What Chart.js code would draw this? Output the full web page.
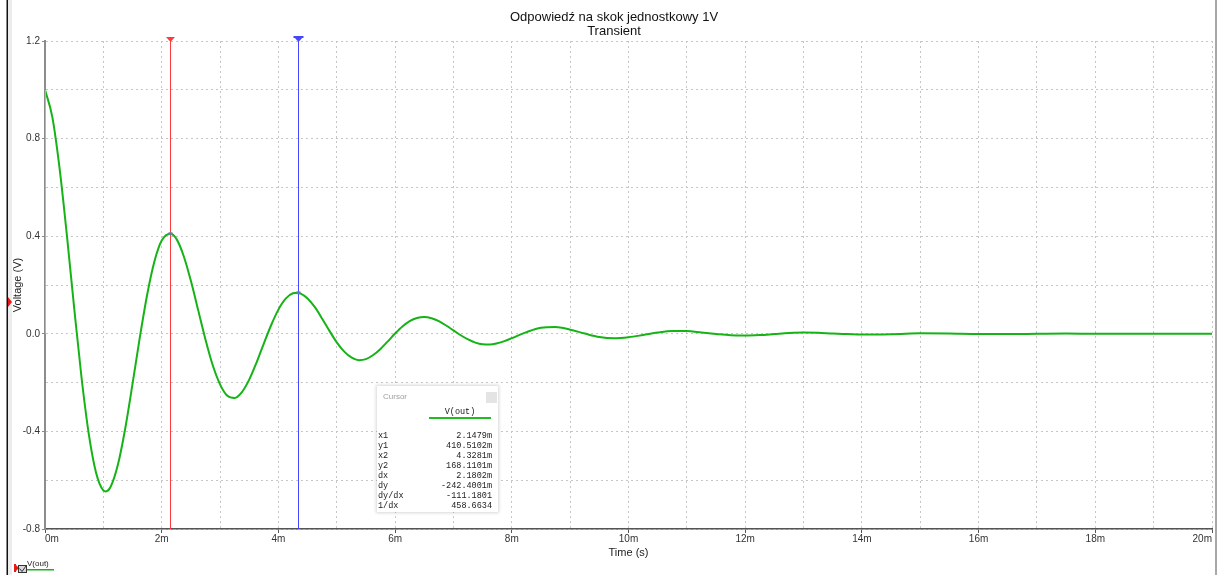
<!DOCTYPE html>
<html>
<head>
<meta charset="utf-8">
<script src="https://cdn.jsdelivr.net/npm/chart.js@4.4.0/dist/chart.umd.min.js"></script>
<style>
  html, body { margin: 0; padding: 0; background: #fff; }
  #wrap { position: relative; width: 1218px; height: 575px; overflow: hidden; }
  #plot { position: absolute; left: 0; top: 0; }
  #cursorBox {
    position: absolute; left: 377px; top: 386px; width: 121px; height: 126px;
    background: #fff; box-shadow: 0 0 3px 1px rgba(0,0,0,0.16);
    font-family: "Liberation Mono", "DejaVu Sans Mono", monospace; font-size: 8.5px; color: #222;
  }
  #cursorBox .cb-title { position: absolute; left: 6px; top: 6px; font: 8px "Liberation Sans", Arial, sans-serif; color: #a0a0a0; line-height: 10px; }
  #cursorBox .cb-close { position: absolute; left: 109px; top: 6px; width: 11px; height: 11px; background: #e4e4e4; }
  #cursorBox .cb-head { position: absolute; left: 52px; width: 62px; top: 21px; text-align: center; line-height: 10px; }
  #cursorBox .cb-rule { position: absolute; left: 52px; width: 62px; top: 31px; height: 2px; background: #22bb22; }
  #cursorBox .cb-row { position: absolute; left: 1px; right: 6px; height: 10px; line-height: 10px; white-space: pre; }
  #cursorBox .cb-row span.v { position: absolute; right: 0; }
</style>
</head>
<body>
<div id="wrap">
  <canvas id="plot" width="1218" height="575"></canvas>
  <div id="cursorBox">
    <div class="cb-title">Cursor</div>
    <div class="cb-close"></div>
    <div class="cb-head">V(out)</div>
    <div class="cb-rule"></div>
  </div>
</div>
<script>
// Transient response V(out): time in ms, voltage in V
const timeMs = [
  0, 0.125, 0.25, 0.375, 0.5, 0.625, 0.75, 0.875, 1.0, 1.041, 1.125, 1.25, 1.375, 1.5, 1.625, 1.75, 1.875,
  2.0, 2.1479, 2.25, 2.375, 2.5, 2.625, 2.75, 2.875, 3.0, 3.125, 3.25, 3.375, 3.5, 3.625, 3.75, 3.875,
  4.0, 4.125, 4.25, 4.3281, 4.375, 4.5, 4.625, 4.75, 4.875, 5.0, 5.125, 5.25, 5.375, 5.5, 5.625, 5.75, 5.875,
  6.0, 6.125, 6.25, 6.375, 6.5, 6.625, 6.75, 6.875, 7.0, 7.125, 7.25, 7.375, 7.5, 7.625, 7.75, 7.875,
  8.0, 8.25, 8.5, 8.75, 9.0, 9.25, 9.5, 9.75, 10.0, 10.25, 10.5, 10.75, 11.0, 11.25, 11.5, 11.75,
  12.0, 12.25, 12.5, 12.75, 13.0, 13.25, 13.5, 13.75, 14.0, 14.25, 14.5, 14.75, 15.0, 15.5, 16.0, 16.5,
  17.0, 17.5, 18.0, 19.0, 20.0];
const vOut = [
  1.000, 0.889, 0.678, 0.404, 0.106, -0.177, -0.410, -0.569, -0.642, -0.646, -0.627, -0.536, -0.388, -0.205, -0.015, 0.159, 0.296,
  0.382, 0.4105102, 0.390, 0.320, 0.217, 0.097, -0.023, -0.129, -0.207, -0.254, -0.263, -0.239, -0.188, -0.118, -0.040, 0.035,
  0.099, 0.144, 0.166, 0.1681101, 0.166, 0.145, 0.109, 0.062, 0.012, -0.035, -0.072, -0.097, -0.108, -0.104, -0.087, -0.062, -0.031,
  0.001, 0.030, 0.052, 0.065, 0.069, 0.064, 0.052, 0.034, 0.014, -0.006, -0.023, -0.036, -0.043, -0.044, -0.039, -0.030,
  -0.018, 0.007, 0.025, 0.028, 0.017, 0.001, -0.013, -0.018, -0.014, -0.005, 0.005, 0.011, 0.011, 0.005, -0.001, -0.006,
  -0.007, -0.005, -0.001, 0.003, 0.005, 0.004, 0.001, -0.001, -0.003, -0.003, -0.002, 0.000, 0.002, 0.001, -0.001, -0.001,
  0.000, 0.001, 0.000, 0.000, 0.000];

// input step edge at t = 0
const stepTimeMs = [0, 0];
const stepV = [0, 1];

// cursor positions (ms) and the values they read
const cursorTimesMs = [2.1479, 4.3281];
const cursorValues = [0.4105102, 0.1681101];
const cursorColors = ['#ff3b3b', '#4646ff'];

// readout panel rows
const readoutNames = ['x1', 'y1', 'x2', 'y2', 'dx', 'dy', 'dy/dx', '1/dx'];
const readoutValues = ['2.1479m', '410.5102m', '4.3281m', '168.1101m', '2.1802m', '-242.4001m', '-111.1801', '458.6634'];

// axis ranges
const xRange = [0, 20];
const yRange = [-0.8, 1.2];

const titleLines = ['Odpowiedź na skok jednostkowy 1V', 'Transient'];
const xTitle = 'Time (s)';
const yTitle = 'Voltage (V)';
const legendLabel = 'V(out)';

// fill the readout rows
const box = document.getElementById('cursorBox');
readoutNames.forEach((name, i) => {
  const row = document.createElement('div');
  row.className = 'cb-row';
  row.style.top = (45 + i * 10) + 'px';
  row.textContent = name;
  const v = document.createElement('span');
  v.className = 'v';
  v.textContent = readoutValues[i];
  row.appendChild(v);
  box.appendChild(row);
});

const SANS = '"Liberation Sans", Arial, sans-serif';

const decorations = {
  id: 'decorations',
  afterDatasetsDraw(chart) {
    const { ctx, chartArea: a, scales: { x, y } } = chart;
    ctx.save();

    // cursors with their top markers and curve hit points
    cursorTimesMs.forEach((t, i) => {
      const px = Math.round(x.getPixelForValue(t)) + 0.5;
      ctx.strokeStyle = cursorColors[i];
      ctx.lineWidth = 1;
      ctx.beginPath();
      ctx.moveTo(px, a.top - 3);
      ctx.lineTo(px, a.bottom);
      ctx.stroke();
      ctx.fillStyle = cursorColors[i];
      ctx.beginPath();
      ctx.moveTo(px - 4.5, a.top - 4);
      ctx.lineTo(px + 4.5, a.top - 4);
      ctx.lineTo(px, a.top + 1);
      ctx.closePath();
      ctx.fill();
      if (i === 1) ctx.fillRect(px - 5, a.top - 5, 10, 2);
      const py = y.getPixelForValue(cursorValues[i]);
      ctx.fillStyle = 'rgba(90,130,170,0.85)';
      ctx.fillRect(px - 2, py - 1.5, 4, 3);
    });

    // titles
    ctx.fillStyle = '#111';
    ctx.textAlign = 'center';
    ctx.textBaseline = 'middle';
    ctx.font = '13px ' + SANS;
    ctx.fillText(titleLines[0], 614, 17);
    ctx.fillText(titleLines[1], 614, 31);

    ctx.font = '11px ' + SANS;
    ctx.fillStyle = '#222';
    ctx.fillText(xTitle, (a.left + a.right) / 2, 553);
    ctx.save();
    ctx.translate(18, (a.top + a.bottom) / 2);
    ctx.rotate(-Math.PI / 2);
    ctx.fillText(yTitle, 0, 0);
    ctx.restore();

    // frame lines at the window edges
    ctx.fillStyle = '#ececec';
    ctx.fillRect(8, 0, 4, 575);
    ctx.fillStyle = '#111';
    ctx.fillRect(6.5, 0, 1.5, 575);
    ctx.fillStyle = '#a8a8a8';
    ctx.fillRect(1215, 0, 2, 575);

    // trigger marker on the left edge
    ctx.fillStyle = '#e81818';
    ctx.beginPath();
    ctx.moveTo(8, 297);
    ctx.lineTo(12, 302);
    ctx.lineTo(8, 307);
    ctx.closePath();
    ctx.fill();

    // trace legend at bottom-left
    ctx.fillStyle = '#e81818';
    ctx.fillRect(14, 564, 2, 8);
    ctx.beginPath();
    ctx.moveTo(15, 564); ctx.lineTo(19, 568); ctx.lineTo(15, 572); ctx.closePath();
    ctx.fill();
    ctx.fillStyle = '#d8d8d8';
    ctx.fillRect(18, 565, 9, 8);
    ctx.strokeStyle = '#333';
    ctx.lineWidth = 1;
    ctx.strokeRect(18.5, 565.5, 8, 7);
    ctx.beginPath();
    ctx.moveTo(19.5, 568.5); ctx.lineTo(22, 571.5); ctx.lineTo(26, 566);
    ctx.stroke();
    ctx.fillStyle = '#222';
    ctx.textAlign = 'left';
    ctx.font = '8px ' + SANS;
    ctx.fillText(legendLabel, 27, 564);
    ctx.fillStyle = '#16b316';
    ctx.fillRect(27, 569, 27, 1.5);

    ctx.restore();
  }
};

new Chart(document.getElementById('plot'), {
  type: 'line',
  data: {
    datasets: [
      {
        label: 'step',
        data: stepTimeMs.map((t, i) => ({ x: t, y: stepV[i] })),
        borderColor: '#97de97',
        borderWidth: 1.5,
        pointRadius: 0
      },
      {
        label: legendLabel,
        data: timeMs.map((t, i) => ({ x: t, y: vOut[i] })),
        borderColor: '#16b316',
        borderWidth: 2,
        pointRadius: 0,
        cubicInterpolationMode: 'monotone'
      }
    ]
  },
  options: {
    responsive: false,
    animation: false,
    layout: { padding: { left: 0, right: 6, top: 41, bottom: 0 } },
    plugins: { legend: { display: false }, tooltip: { enabled: false }, title: { display: false } },
    scales: {
      x: {
        type: 'linear',
        min: xRange[0], max: xRange[1],
        afterFit: s => { s.height = 46; },
        border: { display: true, color: '#555', width: 1.5, dash: [2, 3] },
        grid: {
          color: '#c6c6c6', lineWidth: 1, tickLength: 4,
          tickColor: c => (c.tick && Math.round(c.tick.value) % 2 === 0) ? '#555' : 'rgba(0,0,0,0)'
        },
        ticks: {
          stepSize: 1, autoSkip: false, maxRotation: 0, align: 'inner', padding: 0,
          color: '#333', font: { family: SANS, size: 10 },
          callback: v => (Math.round(v) % 2 === 0 ? Math.round(v) + 'm' : '')
        }
      },
      y: {
        type: 'linear',
        min: yRange[0], max: yRange[1],
        afterFit: s => { s.width = 45; },
        border: { display: true, color: '#8c8c8c', width: 2, dash: [2, 3] },
        grid: {
          color: '#c6c6c6', lineWidth: 1, tickLength: 3,
          tickColor: c => (c.tick && Math.round(c.tick.value * 10) % 4 === 0) ? '#888' : 'rgba(0,0,0,0)'
        },
        ticks: {
          stepSize: 0.2, autoSkip: false, padding: 2,
          color: '#333', font: { family: SANS, size: 10 },
          callback: v => {
            const k = Math.round(v * 10);
            return k % 4 === 0 ? (k / 10).toFixed(1) : '';
          }
        }
      }
    }
  },
  plugins: [decorations]
});
</script>
</body>
</html>
